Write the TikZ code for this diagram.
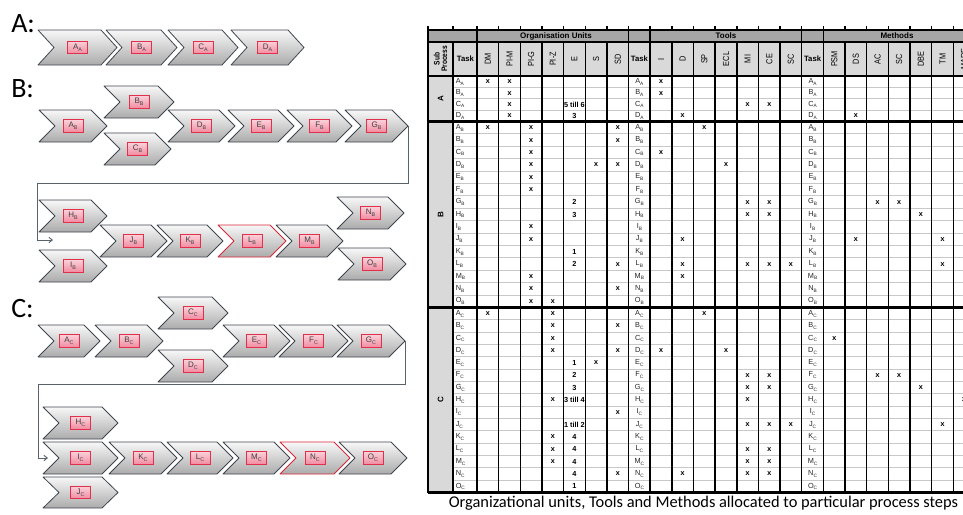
\documentclass[tikz,border=0pt]{standalone}
\usepackage{fontspec}
\usepackage{graphicx}
\setmainfont{Liberation Sans}
\newfontfamily\calfont{Carlito}
\newfontfamily\xmono{Liberation Mono}
\usetikzlibrary{arrows.meta}
\definecolor{chevline}{HTML}{3F4650}
\definecolor{chevred}{HTML}{D8283A}
\definecolor{lblred}{HTML}{E2304A}
\definecolor{lbltop}{HTML}{FAD0D8}
\definecolor{lblbot}{HTML}{F28CA2}
\definecolor{hdrA}{HTML}{A6A6A6}
\definecolor{hdrB}{HTML}{D9D9D9}
\definecolor{rowline}{HTML}{C8C8C8}
\definecolor{conncol}{HTML}{5A626A}
\newcommand\ya[1]{81.7+11.375*#1}
\newcommand\yb[1]{127.7+12.4*#1}
\newcommand\yc[1]{313.67+12.333*#1}
\newcommand\colx[1]{477+21.65*(#1+0.5)}
\def\subsz{3.6}
\newcommand\tk[2]{#1\raisebox{-0.45ex}{\fontsize{\subsz}{4}\selectfont #2}}
\newcommand\chv[8][]{%
  \path[chev,#1] (#3,#4) -- ({#6-16},#4) -- (#6,{(#4+#5)/2}) -- ({#6-16},#5) -- (#3,#5) -- ({#3+16},{(#4+#5)/2}) -- cycle;
  \node[lbl] (#2) at ({(#3+#6)/2},{(#4+#5)/2}) {\tk{#7}{#8}};
  \coordinate (#2tip) at (#6,{(#4+#5)/2});
}
\newcommand\putx[3]{\foreach \k in {#3}{\node[xm] (m#1#2-\k) at ({\colx{\k}},{\csname y#1\endcsname{#2}}) {x};}}
\newcommand\putn[3]{\node[numc] (n#1#2) at ({\colx{4}},{\csname y#1\endcsname{#2}}) {#3};}
\newcommand\puttask[4]{%
  \node[tsk,anchor=west] (ta#1#2) at (455.5,{\csname y#1\endcsname{#2}}) {\tk{#3}{#4}};
  \node[tsk] (tb#1#2) at ({\colx{7}},{\csname y#1\endcsname{#2}}) {\tk{#3}{#4}};
  \node[tsk] (tc#1#2) at ({\colx{15}},{\csname y#1\endcsname{#2}}) {\tk{#3}{#4}};
}
\newcommand\hlab[2]{\node[hrot] (h#1) at ({\colx{#1}},59) {\scalebox{1}[1.2]{#2}};}
\begin{document}
\begin{tikzpicture}[x=0.75pt,y=-0.75pt,
  chev/.style={draw=chevline, line width=0.6pt, top color=black!3, bottom color=black!33, line join=round},
  redchev/.style={draw=chevred},
  lbl/.style={draw=lblred, line width=0.6pt, top color=lbltop, bottom color=lblbot, minimum width=15pt, minimum height=9.2pt, inner sep=0pt, font=\fontsize{6}{7}\selectfont\def\subsz{4}, text=black!75},
  conn/.style={draw=conncol, line width=0.7pt},
  bigl/.style={font=\calfont\fontsize{21}{24}\selectfont, anchor=base west, inner sep=0pt},
  xm/.style={font=\xmono\bfseries\fontsize{5.5}{6}\selectfont, inner sep=0pt},
  numc/.style={font=\bfseries\fontsize{5.5}{6}\selectfont, inner sep=0.4pt, fill=white},
  tsk/.style={font=\fontsize{5.5}{6}\selectfont, inner sep=0pt, text=black!85},
  hrot/.style={rotate=90, font=\fontsize{5.5}{6}\selectfont, inner sep=0pt},
  hone/.style={font=\bfseries\fontsize{6}{7}\selectfont, inner sep=0pt},
  vl/.style={line width=1.1pt, black},
  rl/.style={line width=0.8pt, rowline},
  thk/.style={line width=1.8pt, black},
  thn/.style={line width=0.8pt, black}]
\useasboundingbox (0,0) rectangle (963,514);
\fill[white] (0,0) rectangle (963,514);
% ---------- left: process chains ----------
\node[bigl] (labA) at (11,32) {A:};
\node[bigl] (labB) at (11,97) {B:};
\node[bigl] (labC) at (11,317) {C:};
\chv{AA}{38}{30}{65}{117}{A}{A}
\chv{BA}{106}{30}{65}{177}{B}{A}
\chv{CA}{168}{30}{65}{238}{C}{A}
\chv{DA}{231}{30}{65}{304}{D}{A}
% B
\chv{AB}{39}{110}{142}{107}{A}{B}
\chv{BB}{104}{86}{118}{174}{B}{B}
\chv{CB}{104}{133}{165}{171}{C}{B}
\chv{DB}{168}{110}{142}{235}{D}{B}
\chv{EB}{228}{110}{142}{294}{E}{B}
\chv{FB}{287}{110}{142}{352}{F}{B}
\chv{GB}{345}{110}{142}{408}{G}{B}
\coordinate (b1) at (37,183);
\coordinate (b2) at (53,240);
\draw[conn,-{Straight Barb[length=2.5pt,width=4pt]}] (GBtip) -- (GBtip |- b1) -- (b1) |- (b2);
\chv{HB}{39}{200}{232}{107}{H}{B}
\chv{IB}{39}{250}{282}{107}{I}{B}
\chv{NB}{337}{197}{229}{404}{N}{B}
\chv{OB}{338}{248}{280}{406}{O}{B}
\chv{JB}{100}{225}{257}{167}{J}{B}
\chv{KB}{157}{225}{257}{223}{K}{B}
\chv[redchev]{LB}{218}{225}{257}{286}{L}{B}
\chv{MB}{276}{225}{257}{343}{M}{B}
% C
\chv{AC}{38}{325}{357}{100}{A}{C}
\chv{BC}{95}{325}{357}{163}{B}{C}
\chv{CC}{158}{297}{329}{228}{C}{C}
\chv{DC}{158}{350}{382}{228}{D}{C}
\chv{EC}{223}{325}{357}{290}{E}{C}
\chv{FC}{279}{325}{357}{348}{F}{C}
\chv{GC}{337}{325}{357}{405}{G}{C}
\coordinate (c1) at (38,384);
\coordinate (c2) at (48,458);
\draw[conn,-{Straight Barb[length=2.5pt,width=4pt]}] (GCtip) -- (GCtip |- c1) -- (c1) |- (c2);
\chv{HC}{43}{407}{439}{118}{H}{C}
\chv{IC}{43}{442}{474}{118}{I}{C}
\chv{JC}{43}{477}{508}{118}{J}{C}
\chv{KC}{109}{442}{474}{177}{K}{C}
\chv{LC}{167}{442}{474}{233}{L}{C}
\chv{MC}{223}{442}{474}{290}{M}{C}
\chv[redchev]{NC}{280}{442}{474}{350}{N}{C}
\chv{OC}{339}{442}{474}{407}{O}{C}
% ---------- right: table ----------
\begin{scope}
\clip (420,20) rectangle (963,514);
\fill[hdrA] (428,30) rectangle (975,42);
\fill[hdrB] (428,42) rectangle (975,76);
\fill[hdrB] (428,76) rectangle (453,492.5);
\foreach \i in {1,2,3} \draw[rl] (453,{76+11.375*\i}) -- (975,{76+11.375*\i});
\foreach \i in {1,...,14} \draw[rl] (453,{121.5+12.4*\i}) -- (975,{121.5+12.4*\i});
\foreach \i in {1,...,14} \draw[rl] (453,{307.5+12.333*\i}) -- (975,{307.5+12.333*\i});
\foreach \k in {1,...,23} \draw[vl] ({477+21.65*\k},42) -- ({477+21.65*\k},492.5);
\foreach \k in {0,...,23} \draw[vl] ({477+21.65*\k},26) -- ({477+21.65*\k},30);
\foreach \k in {7,8,15,16} \draw[vl] ({477+21.65*\k},30) -- ({477+21.65*\k},42);
\draw[vl] (428,26) -- (428,492.5);
\draw[vl] (453,42) -- (453,492.5);
\draw[vl] (453,26) -- (453,30);
\draw[vl] (477,30) -- (477,492.5);
\draw[thn] (428,30) -- (975,30);
\draw[thn] (428,42) -- (975,42);
\draw[thk] (428,76) -- (975,76);
\draw[thk] (428,121.5) -- (975,121.5);
\draw[thk] (428,307.5) -- (975,307.5);
\draw[thk] (428,492.5) -- (975,492.5);
% header texts
\node[hone] (hOrg) at (556,36) {Organisation Units};
\node[hone] (hTools) at (726,36) {Tools};
\node[hone] (hMeth) at (897,36) {Methods};
\node[hrot,font=\bfseries\fontsize{5}{5.6}\selectfont,align=center] (hSub) at (440.5,59) {\scalebox{1}[1.2]{Sub}\\\scalebox{1}[1.2]{Process}};
\node[hone,font=\bfseries\fontsize{5.8}{6}\selectfont] (hTask1) at (465.5,59) {Task};
\node[hone,font=\bfseries\fontsize{5.8}{6}\selectfont] (hTask2) at ({\colx{7}},59) {Task};
\node[hone,font=\bfseries\fontsize{5.8}{6}\selectfont] (hTask3) at ({\colx{15}},59) {Task};
\hlab{0}{DM}\hlab{1}{PI-M}\hlab{2}{PI-G}\hlab{3}{PI-Z}\hlab{4}{E}\hlab{5}{S}\hlab{6}{SD}
\hlab{8}{I}\hlab{9}{D}\hlab{10}{SP}\hlab{11}{ECL}\hlab{12}{MI}\hlab{13}{CE}\hlab{14}{SC}
\hlab{16}{PSM}\hlab{17}{DS}\hlab{18}{AC}\hlab{19}{SC}\hlab{20}{DBE}\hlab{21}{TM}\hlab{22}{MARE}
% sub process letters
\node[hrot,font=\bfseries\fontsize{6}{7}\selectfont] (spA) at (440.5,98.75) {A};
\node[hrot,font=\bfseries\fontsize{6}{7}\selectfont] (spB) at (440.5,214.5) {B};
\node[hrot,font=\bfseries\fontsize{6}{7}\selectfont] (spC) at (440.5,400) {C};
% task labels
\foreach \L [count=\r from 0] in {A,B,C,D} {\puttask{a}{\r}{\L}{A}}
\foreach \L [count=\r from 0] in {A,B,C,D,E,F,G,H,I,J,K,L,M,N,O} {\puttask{b}{\r}{\L}{B}}
\foreach \L [count=\r from 0] in {A,B,C,D,E,F,G,H,I,J,K,L,M,N,O} {\puttask{c}{\r}{\L}{C}}
% section A
\putx{a}{0}{0,1,8}
\putx{a}{1}{1,8}
\putx{a}{2}{1,12,13}\putn{a}{2}{5 till 6}
\putx{a}{3}{1,9,17}\putn{a}{3}{3}
% section B
\putx{b}{0}{0,2,6,10}
\putx{b}{1}{2,6}
\putx{b}{2}{2,8}
\putx{b}{3}{2,5,6,11}
\putx{b}{4}{2}
\putx{b}{5}{2}
\putx{b}{6}{12,13,18,19}\putn{b}{6}{2}
\putx{b}{7}{12,13,20}\putn{b}{7}{3}
\putx{b}{8}{2}
\putx{b}{9}{2,9,17,21}
\putn{b}{10}{1}
\putx{b}{11}{6,9,12,13,14,21}\putn{b}{11}{2}
\putx{b}{12}{2,9}
\putx{b}{13}{2,6}
\putx{b}{14}{2,3}
% section C
\putx{c}{0}{0,3,10}
\putx{c}{1}{3,6}
\putx{c}{2}{3,16}
\putx{c}{3}{3,6,8,11}
\putx{c}{4}{5}\putn{c}{4}{1}
\putx{c}{5}{12,13,18,19}\putn{c}{5}{2}
\putx{c}{6}{12,13,20}\putn{c}{6}{3}
\putx{c}{7}{3,12,22}\putn{c}{7}{3 till 4}
\putx{c}{8}{6}
\putx{c}{9}{12,13,14,21}\putn{c}{9}{1 till 2}
\putx{c}{10}{3}\putn{c}{10}{4}
\putx{c}{11}{3,12,13}\putn{c}{11}{4}
\putx{c}{12}{3,12,13}\putn{c}{12}{4}
\putx{c}{13}{6,9,12,13}\putn{c}{13}{4}
\putn{c}{14}{1}
\end{scope}
\node[font=\calfont\fontsize{12.3}{14}\selectfont, anchor=base west, inner sep=0pt] (cap) at (448.5,507) {Organizational units, Tools and Methods allocated to particular process steps};
\end{tikzpicture}
\end{document}
